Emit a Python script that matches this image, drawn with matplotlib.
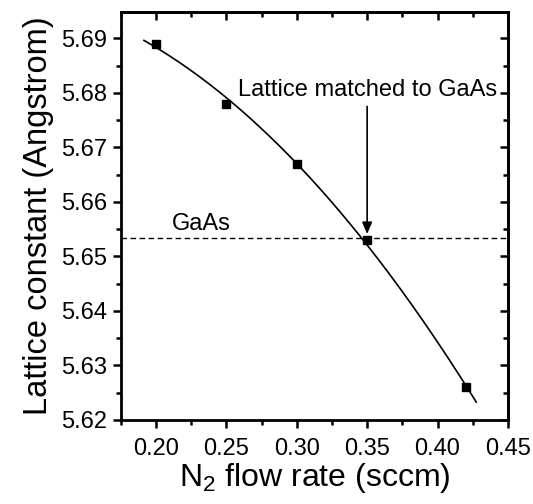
import numpy as np
import matplotlib.pyplot as plt
from matplotlib.ticker import MultipleLocator

plt.rcParams['font.family'] = ['Liberation Sans', 'DejaVu Sans']
plt.rcParams['mathtext.fontset'] = 'custom'
plt.rcParams['mathtext.rm'] = 'Liberation Sans'

# measured points
flow = [0.20, 0.25, 0.30, 0.35, 0.42]
lattice = [5.6889, 5.678, 5.667, 5.653, 5.626]
gaas = 5.6533

# quadratic fit through the points
coef = np.polyfit(flow, lattice, 2)
xfit = np.linspace(0.1915, 0.4275, 200)
yfit = np.polyval(coef, xfit)

fig = plt.figure(figsize=(5.33, 5.04), dpi=100)
ax = fig.add_axes([0.2265, 0.1667, 0.7265, 0.8093])

ax.plot(xfit, yfit, '-', color='black', lw=1.2)
ax.plot(flow, lattice, 's', color='black', ms=6)
ax.axhline(gaas, color='black', ls=(0, (4, 2.5)), lw=1)

ax.text(0.2324, gaas + 0.0006, 'GaAs', fontsize=17, ha='center', va='bottom')
ax.text(0.35, 5.6785, 'Lattice matched to GaAs', fontsize=17, ha='center', va='bottom')
ax.annotate('', xy=(0.35, 5.6541), xytext=(0.35, 5.6775),
            arrowprops=dict(arrowstyle='-|>,head_length=0.7,head_width=0.3',
                            color='black', lw=1.2, shrinkA=0, shrinkB=0))

ax.set_xlim(0.175, 0.45)
ax.set_ylim(5.62, 5.6948)
ax.xaxis.set_major_locator(MultipleLocator(0.05))
ax.xaxis.set_minor_locator(MultipleLocator(0.025))
ax.yaxis.set_major_locator(MultipleLocator(0.01))
ax.yaxis.set_minor_locator(MultipleLocator(0.005))
ax.xaxis.set_major_formatter(plt.FormatStrFormatter('%.2f'))
ax.yaxis.set_major_formatter(plt.FormatStrFormatter('%.2f'))

# bottom/left ticks point out, top/right point in
ax.tick_params(which='both', direction='out', width=1.8, labelsize=17)
ax.tick_params(which='major', length=6)
ax.tick_params(which='minor', length=3.5)
ax.tick_params(axis='y', pad=4)
ax.tick_params(axis='x', pad=7)
ax2 = ax.secondary_xaxis('top')
ax2.xaxis.set_major_locator(MultipleLocator(0.05))
ax2.xaxis.set_minor_locator(MultipleLocator(0.025))
ax2.tick_params(which='both', direction='in', width=1.8, labeltop=False)
ax2.tick_params(which='major', length=6)
ax2.tick_params(which='minor', length=3.5)
ay2 = ax.secondary_yaxis('right')
ay2.yaxis.set_major_locator(MultipleLocator(0.01))
ay2.yaxis.set_minor_locator(MultipleLocator(0.005))
ay2.tick_params(which='both', direction='in', width=1.8, labelright=False)
ay2.tick_params(which='major', length=6)
ay2.tick_params(which='minor', length=3.5)
for s in ax.spines.values():
    s.set_linewidth(2)
ax2.spines['top'].set_linewidth(2)
ay2.spines['right'].set_linewidth(2)

ax.set_xlabel(r'N$_2$ flow rate (sccm)', fontsize=23, labelpad=1)
ax.set_ylabel('Lattice constant (Angstrom)', fontsize=23.5, labelpad=5)

plt.savefig('out.png', dpi=100)
